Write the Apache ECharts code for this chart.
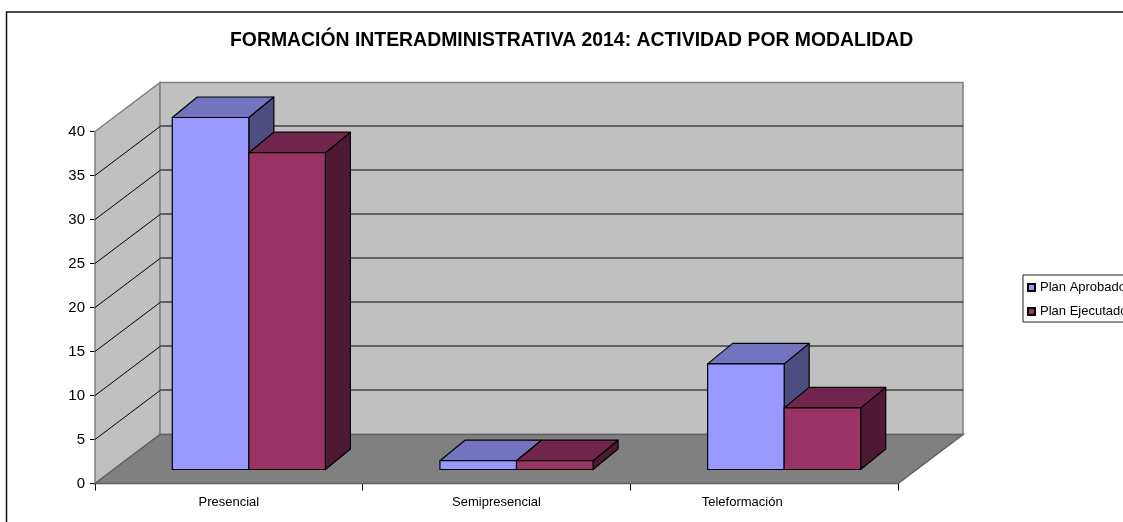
<!DOCTYPE html>
<html>
<head>
<meta charset="utf-8">
<style>html,body{margin:0;padding:0;background:#fff}#c{width:1123px;height:522px}</style>
<script src="https://cdn.jsdelivr.net/npm/echarts@6/dist/echarts.min.js"></script>
</head>
<body>
<div id="c"></div>
<script>
const titleText = 'FORMACIÓN INTERADMINISTRATIVA 2014: ACTIVIDAD POR MODALIDAD';
const categories = ['Presencial', 'Semipresencial', 'Teleformación'];
const planAprobado = [40, 1, 12];
const planEjecutado = [36, 1, 7];
const yTicks = [0, 5, 10, 15, 20, 25, 30, 35, 40];

const WALL_DX = 65, WALL_DY = -49;
const BAR_DX = 25, BAR_DY = -20.5;
const BAR_SHIFT_X = 20, BAR_SHIFT_Y = -14;
const BAR_FRAC = 0.286;
const FONT = '"Liberation Sans", Arial, sans-serif';

function renderWalls(params, api) {
  const o = api.coord([0, 0]);
  const band = api.size([1, 0])[0];
  const x0 = o[0] - band / 2, y0 = o[1];
  const x1 = x0 + band * categories.length;
  const yTop = api.coord([0, yTicks[yTicks.length - 1]])[1];
  const bx0 = x0 + WALL_DX, bx1 = x1 + WALL_DX;
  const poly = (points, fill, stroke) => ({
    type: 'polygon', shape: { points },
    style: { fill, stroke: stroke || null, lineWidth: 1.5 }
  });
  const children = [
    poly([[x0, y0], [bx0, y0 + WALL_DY], [bx0, yTop + WALL_DY], [x0, yTop]], '#c0c0c0', '#808080'),
    poly([[bx0, y0 + WALL_DY], [bx1, y0 + WALL_DY], [bx1, yTop + WALL_DY], [bx0, yTop + WALL_DY]], '#c0c0c0', '#808080'),
    poly([[x0, y0], [bx0, y0 + WALL_DY], [bx1, y0 + WALL_DY], [x1, y0]], '#808080', '#606060')
  ];
  yTicks.slice(1, -1).forEach(t => {
    const y = api.coord([0, t])[1];
    children.push({
      type: 'line',
      shape: { x1: x0, y1: y, x2: bx0, y2: y + WALL_DY },
      style: { stroke: '#000', lineWidth: 1 }
    });
    children.push({
      type: 'line',
      shape: { x1: bx0, y1: y + WALL_DY - 0.5, x2: bx1, y2: y + WALL_DY - 0.5 },
      style: { stroke: '#404040', lineWidth: 1.5 }
    });
  });
  return { type: 'group', children };
}

function barSeries(name, values, front, top, side, slot) {
  return {
    name, type: 'custom', coordinateSystem: 'cartesian2d', z: 3,
    itemStyle: { color: front, borderColor: '#000', borderWidth: 1 },
    encode: { x: 0, y: 1 },
    data: values.map((v, i) => [i, v]),
    renderItem(params, api) {
      const base = api.coord([api.value(0), 0]);
      const tip = api.coord([api.value(0), api.value(1)]);
      const w = api.size([1, 0])[0] * BAR_FRAC;
      const xl = base[0] + BAR_SHIFT_X + (slot - 1) * w, xr = xl + w;
      const yb = base[1] + BAR_SHIFT_Y, yt = tip[1] + BAR_SHIFT_Y;
      const st = fill => ({ fill, stroke: '#000', lineWidth: 1.2, lineJoin: 'round' });
      return {
        type: 'group',
        children: [
          { type: 'polygon', shape: { points: [[xr, yt], [xr + BAR_DX, yt + BAR_DY], [xr + BAR_DX, yb + BAR_DY], [xr, yb]] }, style: st(side) },
          { type: 'polygon', shape: { points: [[xl, yt], [xl + BAR_DX, yt + BAR_DY], [xr + BAR_DX, yt + BAR_DY], [xr, yt]] }, style: st(top) },
          { type: 'polygon', shape: { points: [[xl, yt], [xr, yt], [xr, yb], [xl, yb]] }, style: st(front) }
        ]
      };
    }
  };
}

const chart = echarts.init(document.getElementById('c'), null, { renderer: 'canvas' });
chart.setOption({
  animation: false,
  backgroundColor: '#fff',
  textStyle: { fontFamily: FONT, color: '#000' },
  title: {
    text: titleText, left: 230, top: 31, padding: 0,
    textStyle: { fontFamily: FONT, fontSize: 19.4, fontWeight: 'bold', color: '#000', lineHeight: 20 }
  },
  graphic: [{
    type: 'polyline', silent: true, z: 0,
    shape: { points: [[6.5, 530], [6.5, 12], [1130, 12]] },
    style: { fill: null, stroke: '#111', lineWidth: 1.5 }
  }],
  legend: {
    data: [{ name: 'Plan Aprobado' }, { name: 'Plan Ejecutado' }],
    orient: 'vertical', left: 1023, top: 275,
    padding: [5, 14, 3, 4], itemGap: 9, itemWidth: 7, itemHeight: 7,
    icon: 'rect', borderColor: '#222', borderWidth: 1,
    selectedMode: false,
    textStyle: { fontSize: 13, color: '#000', lineHeight: 15, padding: [0, 0, 0, 0], fontFamily: FONT }
  },
  grid: { left: 95, top: 131.5, width: 803, height: 352, containLabel: false },
  xAxis: {
    type: 'category', data: categories,
    axisLine: { lineStyle: { color: '#000', width: 1 } },
    axisTick: { show: true, alignWithLabel: false, length: 7, lineStyle: { color: '#000' } },
    axisLabel: {
      fontSize: 13, color: '#000', margin: 12, fontFamily: FONT, interval: 0,
      formatter: v => v === 'Teleformación' ? '{left|' + v + '}' : v,
      rich: { left: { fontSize: 13, color: '#000', fontFamily: FONT, padding: [0, 44, 0, 0] } }
    },
    splitLine: { show: false }
  },
  yAxis: {
    type: 'value', min: 0, max: 40, interval: 5,
    axisLine: { show: true, lineStyle: { color: '#000', width: 1 } },
    axisTick: { show: true, length: 5, lineStyle: { color: '#000' } },
    axisLabel: { fontSize: 15, color: '#000', margin: 10, fontFamily: FONT },
    splitLine: { show: false }
  },
  series: [
    {
      name: 'walls', type: 'custom', coordinateSystem: 'cartesian2d', z: 1, silent: true,
      encode: { x: 0, y: 1 }, data: [[0, 0]], renderItem: renderWalls
    },
    barSeries('Plan Aprobado', planAprobado, '#9999ff', '#7373bf', '#4d4d80', 0),
    barSeries('Plan Ejecutado', planEjecutado, '#993366', '#73264d', '#4d1933', 1)
  ]
});
</script>
</body>
</html>
